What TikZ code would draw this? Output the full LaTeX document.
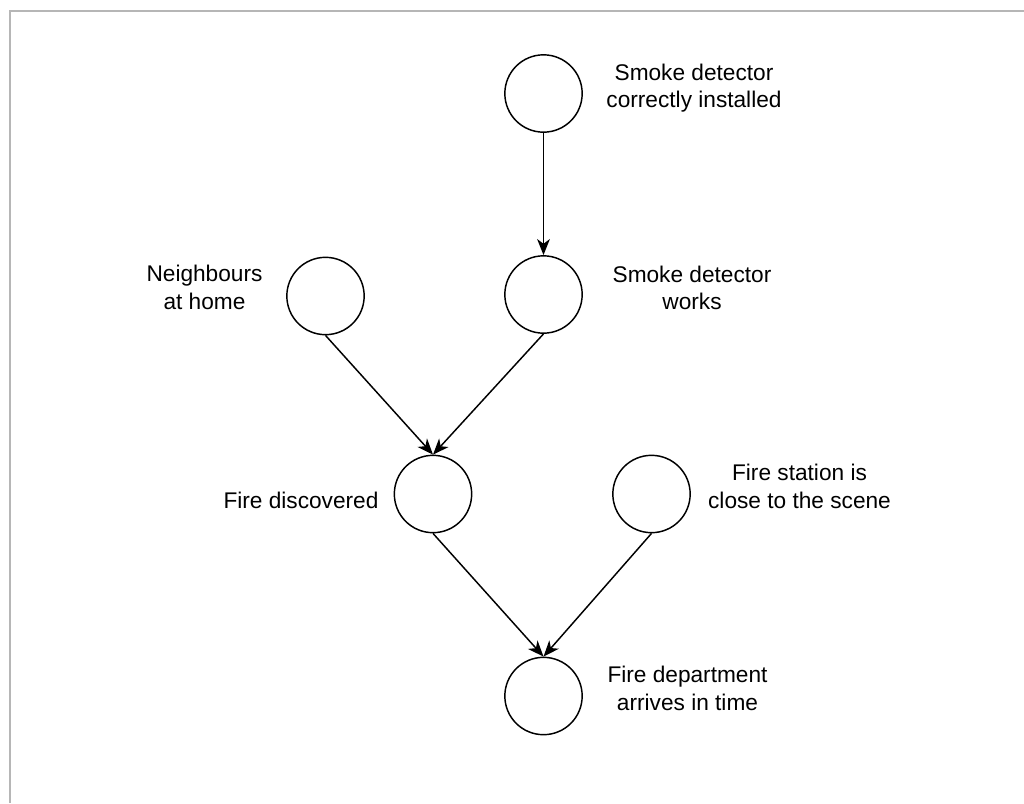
\documentclass[tikz,border=0pt]{standalone}
\usepackage{fontspec}
\setmainfont{Liberation Sans}
\usetikzlibrary{arrows.meta}

\begin{document}
\begin{tikzpicture}[
    x=0.75pt, y=-0.75pt, % one unit is one pixel, y grows downwards
    event/.style={
        draw, % outline of the chance node
        circle,
        line width=1.1pt,
        minimum size=58pt,
        inner sep=0pt
    },
    lbl/.style={
        align=center, % centre every line of the label
        anchor=base, % base of the last line
        inner sep=0pt,
        font=\fontsize{17}{20.6}\selectfont
    },
    link/.style={line width=1.1pt, -{Stealth[length=12pt, width=9.5pt, inset=3.5pt]}}
]
\useasboundingbox[fill=white] (0,0) rectangle (1024,803);
\draw[line width=1.5pt, color={rgb,255:red,182;green,182;blue,182}] (10,803) -- (10,11) -- (1024,11);

% chance nodes
\node[event] (installed) at (543.5,93.5) {};
\node[event] (works) at (543.5,294.5) {};
\node[event] (neighbours) at (325.5,296) {};
\node[event] (discovered) at (433,494) {};
\node[event] (station) at (651.5,494) {};
\node[event] (arrives) at (543.5,696) {};

% their texts
\node[lbl] (installed-txt) at (694,107.5) {Smoke detector\\correctly installed};
\node[lbl] (works-txt) at (692,309.5) {Smoke detector\\works};
\node[lbl] (neighbours-txt) at (204.5,309) {Neighbours\\at home};
\node[lbl] (discovered-txt) at (301,508) {Fire discovered};
\node[lbl] (station-txt) at (799.5,508) {Fire station is\\close to the scene};
\node[lbl] (arrives-txt) at (687.5,710) {Fire department\\arrives in time};

% influences
\draw[link] (installed) -- (works);
\draw[link] (neighbours.south) -- (discovered.north);
\draw[link] (works.south) -- (discovered.north);
\draw[link] (discovered.south) -- (arrives.north);
\draw[link] (station.south) -- (arrives.north);
\end{tikzpicture}
\end{document}
